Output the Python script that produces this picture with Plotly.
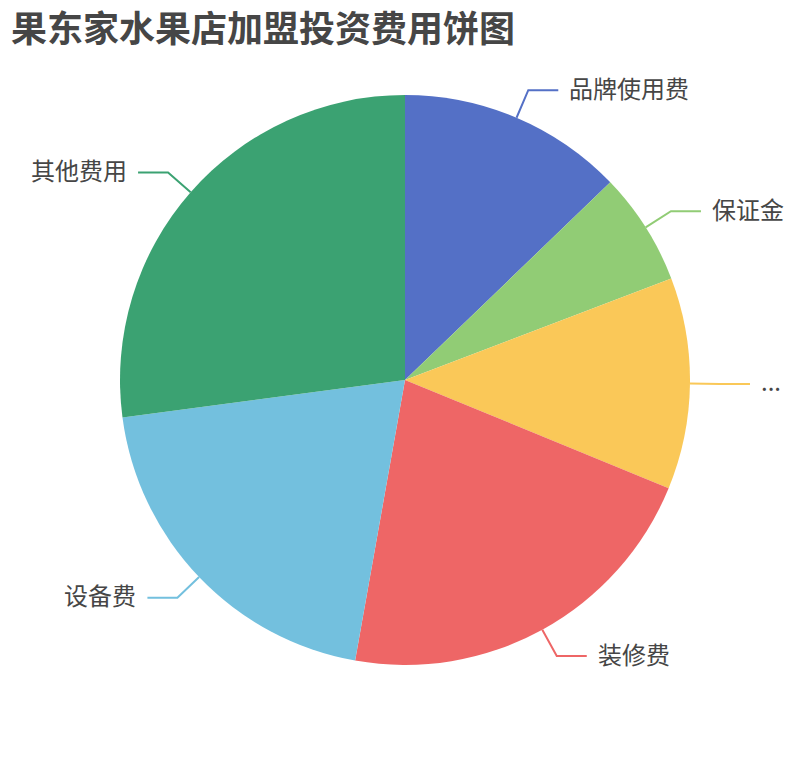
import math
import plotly.graph_objects as go

# ---- data ----
categories = ["品牌使用费", "保证金", "...", "装修费", "设备费", "其他费用"]
values = [12.8, 6.4, 12.0, 21.6, 20.1, 27.1]
colors = ["#5470c6", "#91cc75", "#fac858", "#ee6666", "#73c0de", "#3ba272"]
title_text = "果东家水果店加盟投资费用饼图"

# ---- layout geometry (pixels) ----
W, H = 810, 760
CX, CY, R = 405, 380, 285
LEN1, LEN2, GAP = 30, 30, 10
TEXT_DY = -3

fig = go.Figure(go.Pie(
    labels=categories,
    values=values,
    sort=False,
    direction="clockwise",
    rotation=0,
    marker=dict(colors=colors, line=dict(width=0)),
    textinfo="none",
    hoverinfo="label+value+percent",
    domain=dict(x=[(CX - R) / W, (CX + R) / W], y=[(H - CY - R) / H, (H - CY + R) / H]),
    showlegend=False,
))

def px2paper(x, y):
    return x / W, 1 - y / H

total = sum(values)
cum = 0.0
shapes = []
annotations = []
for name, v, c in zip(categories, values, colors):
    mid = (cum + v / 2) / total * 2 * math.pi
    cum += v
    sx, sy = math.sin(mid), -math.cos(mid)
    p0 = (CX + R * sx, CY + R * sy)
    p1 = (CX + (R + LEN1) * sx, CY + (R + LEN1) * sy)
    right = sx >= 0
    p2 = (p1[0] + (LEN2 if right else -LEN2), p1[1])
    pts = [px2paper(*p) for p in (p0, p1, p2)]
    path = "M {} {} L {} {} L {} {}".format(pts[0][0], pts[0][1], pts[1][0], pts[1][1], pts[2][0], pts[2][1])
    shapes.append(dict(type="path", path=path, xref="paper", yref="paper",
                       line=dict(color=c, width=2)))
    tx = p2[0] + (GAP if right else -GAP)
    ax, ay = px2paper(tx, p2[1] + TEXT_DY)
    annotations.append(dict(x=ax, y=ay, xref="paper", yref="paper", text=name,
                            showarrow=False, xanchor="left" if right else "right",
                            yanchor="middle", borderpad=0,
                            font=dict(size=24, color="#464646", family="Noto Sans CJK SC")))

annotations.append(dict(x=10 / W, y=1 - 26 / H, xref="paper", yref="paper",
                        text="<b>" + title_text + "</b>",
                        showarrow=False, xanchor="left", yanchor="middle", borderpad=0,
                        font=dict(size=36, color="#464646", family="Noto Sans CJK SC")))

fig.update_layout(
    width=W, height=H,
    margin=dict(l=0, r=0, t=0, b=0),
    paper_bgcolor="white", plot_bgcolor="white",
    shapes=shapes,
    annotations=annotations,
)

fig.write_html("out.html", config={"displayModeBar": False},
               post_script="document.body.style.margin='0';")
